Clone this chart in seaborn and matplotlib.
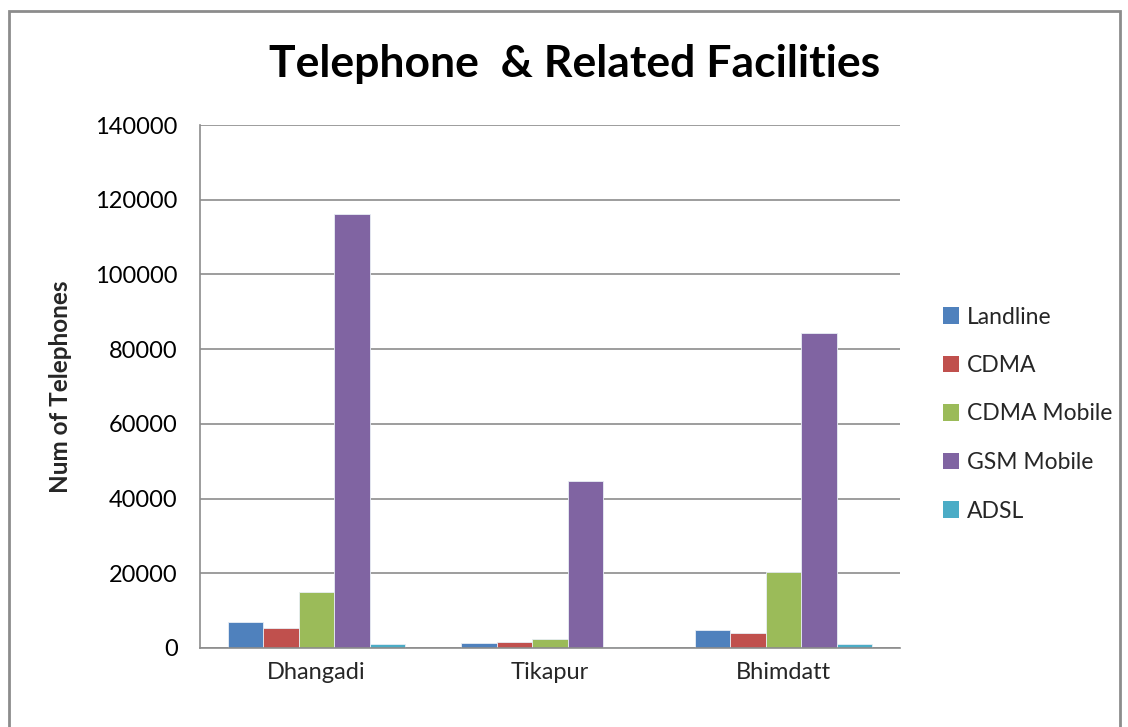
import matplotlib
matplotlib.use("Agg")
import matplotlib.pyplot as plt
import seaborn as sns
import pandas as pd
from matplotlib.patches import Rectangle, Patch

cities = ["Dhangadi", "Tikapur", "Bhimdatt"]
series = ["Landline", "CDMA", "CDMA Mobile", "GSM Mobile", "ADSL"]
landline = [7000, 1260, 4840]
cdma = [5290, 1610, 3950]
cdma_mobile = [14900, 2420, 20400]
gsm_mobile = [116200, 44650, 84400]
adsl = [990, 180, 990]
colors = ["#4F81BD", "#C0504D", "#9BBB59", "#8064A2", "#4BACC6"]
yticks = [0, 20000, 40000, 60000, 80000, 100000, 120000, 140000]

rows = []
for s, vals in zip(series, [landline, cdma, cdma_mobile, gsm_mobile, adsl]):
    for c, v in zip(cities, vals):
        rows.append({"City": c, "Series": s, "Value": v})
df = pd.DataFrame(rows)

sns.set_theme(style="white")
plt.rcParams["font.family"] = ["Lato", "DejaVu Sans"]

fig = plt.figure(figsize=(11.28, 7.27), dpi=100)
ax = fig.add_axes([200/1128, 1-648/727, 700/1128, 523/727])

sns.barplot(data=df, x="City", y="Value", hue="Series", order=cities,
            hue_order=series, palette=colors, width=0.76, saturation=1,
            edgecolor="#e8eef5", linewidth=0.6, ax=ax, legend=False)

ax.set_xlim(-0.5, 2.5)
ax.set_ylim(0, 140000)
ax.set_yticks(yticks)
ax.set_yticklabels([str(v) for v in yticks], fontsize=17, color="black")
ax.yaxis.grid(True, color="#8c8c8c", linewidth=1.2)
ax.set_axisbelow(True)
ax.tick_params(axis="y", length=7, width=1.2, color="#8c8c8c", direction="out", pad=9)
ax.tick_params(axis="x", which="major", length=0, labelsize=17, pad=10)
ax.set_xticks([-0.5, 0.5, 1.5, 2.5], minor=True)
ax.tick_params(axis="x", which="minor", length=8, width=1.2, color="#8c8c8c", direction="out")
for sp in ["top", "right"]:
    ax.spines[sp].set_visible(False)
for sp in ["left", "bottom"]:
    ax.spines[sp].set_color("#8c8c8c")
    ax.spines[sp].set_linewidth(1.2)
ax.set_xlabel("")
ax.set_ylabel("Num of Telephones", fontsize=17.5, fontweight="bold")
ax.yaxis.set_label_coords(-128/700, 0.5)

fig.text(575/1128, 1-64/727, "Telephone  & Related Facilities", ha="center", va="center",
         fontsize=32, fontweight="bold", color="black")

handles = [Patch(facecolor=c, edgecolor="none") for c in colors]
leg = fig.legend(handles, series, loc="center left", bbox_to_anchor=(934/1128, 1-414/727),
                 frameon=False, fontsize=16.5, handlelength=0.7, handleheight=0.7,
                 handletextpad=0.35, labelspacing=1.2, borderaxespad=0)

fig.patches.append(Rectangle((9/1128, -0.05), (1120-9)/1128, 1.05-11/727,
                             transform=fig.transFigure, fill=False,
                             edgecolor="#8c8c8c", linewidth=2, figure=fig))

fig.savefig("out.png", dpi=100, facecolor="white")
